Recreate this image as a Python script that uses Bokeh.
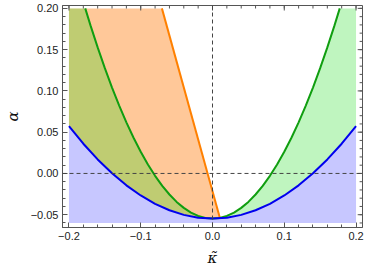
import numpy as np
from bokeh.plotting import figure
from bokeh.models import Range1d, FixedTicker, Span
from bokeh.embed import file_html
from bokeh.resources import INLINE

# ---- data ----
blue_k = [-0.20, -0.18, -0.16, -0.14, -0.12, -0.10, -0.08, -0.06, -0.04, -0.02, 0.00,
          0.02, 0.04, 0.06, 0.08, 0.10, 0.12, 0.14, 0.16, 0.18, 0.20]
blue_a = [0.0573, 0.0360, 0.0170, 0.0002, -0.0144, -0.0267, -0.0368, -0.0446, -0.0502, -0.0536, -0.0547,
          -0.0536, -0.0502, -0.0446, -0.0368, -0.0267, -0.0144, 0.0002, 0.0170, 0.0360, 0.0573]

green_k = [-0.1773, -0.17, -0.16, -0.15, -0.14, -0.13, -0.12, -0.11, -0.10, -0.09, -0.08, -0.07,
           -0.06, -0.05, -0.04, -0.03, -0.02, -0.01, 0.00, 0.01, 0.02, 0.03, 0.04, 0.05, 0.06,
           0.07, 0.08, 0.09, 0.10, 0.11, 0.12, 0.13, 0.14, 0.15, 0.16, 0.17, 0.1773]
green_a = [0.2000, 0.1794, 0.1527, 0.1276, 0.1041, 0.0822, 0.0619, 0.0433, 0.0263, 0.0109, -0.0029, -0.0150,
           -0.0255, -0.0345, -0.0417, -0.0474, -0.0515, -0.0539, -0.0547, -0.0539, -0.0515, -0.0474, -0.0417, -0.0345, -0.0255,
           -0.0150, -0.0029, 0.0109, 0.0263, 0.0433, 0.0619, 0.0822, 0.1041, 0.1276, 0.1527, 0.1794, 0.2000]

orange_k = [-0.0705, 0.0104]
orange_a = [0.2000, -0.0544]

region_k = [-0.20, 0.20]       # shaded region in kappa
region_a = [-0.06, 0.20]       # shaded region in alpha

x_ticks = [-0.2, -0.1, 0.0, 0.1, 0.2]
x_tick_labels = ["\u22120.2", "\u22120.1", "0.0", "0.1", "0.2"]
x_minor = [round(-0.2 + 0.02 * i, 4) for i in range(21)]
y_ticks = [-0.05, 0.0, 0.05, 0.10, 0.15, 0.20]
y_tick_labels = ["\u22120.05", "0.00", "0.05", "0.10", "0.15", "0.20"]
y_minor = [round(-0.06 + 0.01 * i, 4) for i in range(27)]

x_label = "\u03ba\u0303"
y_label = "\u03b1"

X0, X1 = -0.209, 0.209
Y0, Y1 = -0.0655, 0.2035
W, H = 366, 269
BL, BR, BT, BB = 51, 4, 5, 42

# ---- figure ----
p = figure(width=W, height=H, output_backend="svg", toolbar_location=None,
           x_range=Range1d(X0, X1), y_range=Range1d(Y0, Y1),
           min_border_left=BL, min_border_right=BR, min_border_top=BT, min_border_bottom=BB,
           background_fill_color="white", border_fill_color="white")
p.grid.visible = False
p.outline_line_color = "#555555"

bk = np.array(blue_k); ba = np.array(blue_a)
gk = np.array(green_k); ga = np.array(green_a)

# blue region (below blue curve)
p.patch(list(bk) + [region_k[1], region_k[0]], list(ba) + [region_a[0], region_a[0]],
        fill_color="#0000ff", fill_alpha=0.22, line_color=None)

# orange region (left of orange line, above blue curve)
mask = bk <= 0
ok_x = [region_k[0], orange_k[0], orange_k[1]] + list(bk[mask][::-1])
ok_y = [region_a[1], orange_a[0], orange_a[1]] + list(ba[mask][::-1])
p.patch(ok_x, ok_y, fill_color="#ff7600", fill_alpha=0.4, line_color=None)

# green region (between blue curve and green curve)
g_x = [region_k[0]] + list(gk) + [region_k[1]] + list(bk[::-1])
g_y = [region_a[1]] + list(ga) + [region_a[1]] + list(ba[::-1])
p.patch(g_x, g_y, fill_color="#00d700", fill_alpha=0.25, line_color=None)

# dashed reference lines
p.add_layout(Span(location=0, dimension="height", line_color="#444444", line_dash="4 3", line_width=1))
p.add_layout(Span(location=0, dimension="width", line_color="#444444", line_dash="4 3", line_width=1))

# curves
p.line(orange_k, orange_a, line_color="#ff8000", line_width=2)
p.line(green_k, green_a, line_color="#109e10", line_width=2)
p.line(blue_k, blue_a, line_color="#0000ee", line_width=2)

# ticks on the top and right frame edges (inside), drawn as short segments
fw, fh = W - BL - BR, H - BT - BB
dx = (X1 - X0) / fw
dy = (Y1 - Y0) / fh
tick_col = "#555555"
xt_major = np.array(x_ticks); xt_minor = np.array(x_minor)
yt_major = np.array(y_ticks); yt_minor = np.array(y_minor)
p.segment(xt_major, Y1, xt_major, Y1 - 5 * dy, line_color=tick_col, line_width=1)
p.segment(xt_minor, Y1, xt_minor, Y1 - 3 * dy, line_color=tick_col, line_width=1)
p.segment(X1, yt_major, X1 - 5 * dx, yt_major, line_color=tick_col, line_width=1)
p.segment(X1, yt_minor, X1 - 3 * dx, yt_minor, line_color=tick_col, line_width=1)

def style(ax):
    ax.axis_line_color = tick_col
    ax.major_tick_line_color = tick_col
    ax.minor_tick_line_color = tick_col
    ax.major_tick_in = 5
    ax.major_tick_out = 0
    ax.minor_tick_in = 3
    ax.minor_tick_out = 0
    ax.major_label_text_font = "Liberation Sans"
    ax.major_label_text_font_size = "11px"
    ax.major_label_text_color = "#222222"
    ax.major_label_standoff = 4
    ax.axis_label_text_font = "DejaVu Serif"
    ax.axis_label_text_font_style = "italic"
    ax.axis_label_text_font_size = "15px"
    ax.axis_label_text_color = "#111111"

p.xaxis.ticker = FixedTicker(ticks=x_ticks, minor_ticks=x_minor)
p.yaxis.ticker = FixedTicker(ticks=y_ticks, minor_ticks=y_minor)
p.xaxis.major_label_overrides = dict(zip(x_ticks, x_tick_labels))
p.yaxis.major_label_overrides = dict(zip(y_ticks, y_tick_labels))
p.xaxis.axis_label = x_label
p.yaxis.axis_label = y_label
style(p.xaxis[0]); style(p.yaxis[0])
p.xaxis.axis_label_standoff = 6
p.yaxis.axis_label_standoff = 6

open("out.html", "w").write(file_html(p, INLINE))
